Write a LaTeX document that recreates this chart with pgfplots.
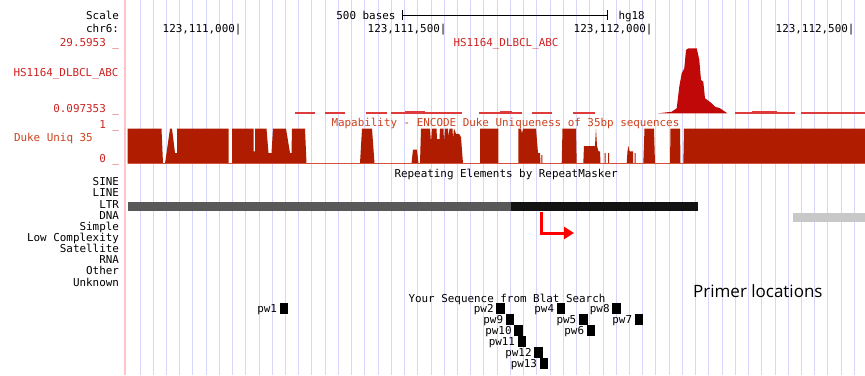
\documentclass[border=0pt]{standalone}
\usepackage{pgfplots}
\pgfplotsset{compat=1.18}
\usepackage{fontspec}
\setmainfont{DejaVu Sans}
\newfontfamily\ucsc{DejaVu Sans Mono}
\newfontfamily\prim{Open Sans}
\usetikzlibrary{arrows.meta}
\definecolor{gridc}{RGB}{214,214,250}
\definecolor{pinkline}{RGB}{255,195,195}
\definecolor{sigred}{RGB}{192,8,8}
\definecolor{dashred}{RGB}{222,60,60}
\definecolor{labred}{RGB}{205,35,35}
\definecolor{dukefill}{RGB}{175,28,0}
\definecolor{dukelab}{RGB}{205,65,30}
\definecolor{dukeline}{RGB}{215,80,60}
\definecolor{ltrgray}{RGB}{88,88,88}
\definecolor{dnagray}{RGB}{200,200,200}
\definecolor{blackbar}{RGB}{18,18,18}
\newcommand{\uf}{\ucsc\fontsize{10.9}{12}\selectfont}
\begin{document}
\begin{tikzpicture}
\begin{axis}[
  scale only axis, width=865pt, height=375pt,
  xmin=0, xmax=865, ymin=0, ymax=375, y dir=reverse,
  axis background/.style={fill=white},
  axis line style={draw=none},
  xtick={140,153.23,...,866}, xticklabels={}, xtick style={draw=none},
  xmajorgrids, grid style={gridc, line width=1pt},
  ytick=\empty,
  clip=false,
]
\coordinate (SW) at (axis cs:0,375);
\coordinate (NE) at (axis cs:865,0);
% left border line
\addplot[pinkline, line width=2pt] coordinates {(125,0)(125,375)};

% ---- signal track HS1164_DLBCL_ABC
\addplot[fill=sigred, draw=none] table[y expr={113.3-(\thisrow{v}-0.097353)/(29.5953-0.097353)*65}] {
x v
658.3 0.097353
671.7 0.82
676.7 2.37
679.3 12.17
681.7 18.25
684.3 20.52
686.0 28.83
688.3 29.5953
696.7 29.5953
699.3 24.29
701.0 15.21
703.3 14.44
705.0 6.90
708.3 5.82
711.7 4.64
715.0 3.09
720.0 2.37
725.0 0.82
727.3 0.097353
} -- cycle;
\addplot[dashred, line width=1.5pt, unbounded coords=jump] coordinates {
(295,113)(315,113)(320,nan)(325,113)(345,113)(350,nan)(366,113)(386.7,113)(388,nan)
(390.7,113)(461.7,113)(470,nan)(479.3,113)(521.7,113)(525,nan)(531.7,113)(551.7,113)(560,nan)
(573,113)(595,113)(600,nan)(735,113)(795,113)(797,nan)(800.7,113)(865,113)};
\addplot[dashred, line width=1.5pt, unbounded coords=jump] coordinates {
(405,111.6)(425,111.6)(430,nan)(500,111.6)(511.7,111.6)(520,nan)(752,111.6)(777,111.6)};

% ---- Duke uniqueness track
\addplot[fill=dukefill, draw=none] table[y expr={163.5-35*\thisrow{v}}] {
x v
127.5 0
127.5 1
161.5 1
163 0
165 0
170 1
172 1
175 0.3
177 0.3
177 1
228.5 1
228.5 0
232 0
232 1
253.5 1
253.5 0.35
255 0.35
255 1
266.5 1
268.5 0.3
271.5 0.3
273 1
286 1
290 0.3
291.5 0.3
292 1
305 1
306.5 0
360 0
362 1
372 1
374.5 0
411.5 0
413 0.4
417 0.4
418.5 0
420 0
421 1
430 1
431 0.6
432 1
436.5 1
437 0.7
439.5 0.7
440 1
443.5 1
444 0.6
445 1
448 1
448.5 0.75
449.5 1
452.5 1
453 0.7
454 1
456 0.85
459 0.85
461 0.75
463 0
480 0
480 1
498.3 1
498.3 0
518.3 0
518.3 1
521 1
522 0.85
523 1
536 1
538 0.3
540 0.3
540.5 0
541.3 0
541.3 0.25
542.3 0.25
542.3 0
561.7 0
562.5 1
576 1
576.7 0
583.3 0
584 0.5
595 0.5
596 1
597 0.5
598.5 0.35
600 0.35
600.5 0
604.5 0
604.5 0.3
605.5 0.3
605.5 0
608 0
608 0.3
609 0.3
609 0
626.7 0
627.5 0.35
628.5 0.5
629.5 0.35
633 0.35
633 0
634.5 0
634.5 0.3
635.5 0.3
635.5 0
643.3 0
644.5 1
654 1
655 0
670 0
670.5 1
680 1
680.5 0
683.3 0
684 1
865 1
865 0
} -- cycle;
\addplot[dukeline, line width=1pt] coordinates {(127.5,163.8)(865,163.8)};

% ---- RepeatMasker
\addplot[fill=ltrgray, draw=none] coordinates {(128,201.7)(511,201.7)(511,210.7)(128,210.7)} -- cycle;
\addplot[fill=blackbar, draw=none] coordinates {(511,201.7)(698,201.7)(698,210.7)(511,210.7)} -- cycle;
\addplot[fill=dnagray, draw=none] coordinates {(793,212.7)(865,212.7)(865,221.7)(793,221.7)} -- cycle;
\addplot[red, line width=3pt, line join=miter, -{Triangle[length=10pt,width=12pt]}] coordinates {(541.3,211.5)(541.3,233)(574,233)};

% ---- scale bar
\addplot[black, line width=0.8pt] coordinates {(402,15)(607,15)};
\addplot[black, line width=1pt] coordinates {(402,10)(402,20)};
\addplot[black, line width=1pt] coordinates {(607,10)(607,20)};

% ---- primers (Blat hits)
\addplot[only marks, mark=square*, mark size=5pt, mark options={xscale=0.75, fill=black, draw=none},
  point meta=explicit symbolic, nodes near coords,
  nodes near coords style={anchor=base east, font=\uf, text=black, xshift=-6.5pt, yshift=-4pt, inner sep=0pt}]
  table[meta=lab] {
x y lab
283.7 308.3 pw1
500.3 308.3 pw2
560.8 308.3 pw4
616.3 308.3 pw8
509.8 319.0 pw9
583.0 319.0 pw5
638.8 319.0 pw7
518.3 330.0 pw10
590.8 330.0 pw6
521.7 341.0 pw11
538.3 352.0 pw12
543.7 363.0 pw13
};

% ---- texts
\node[anchor=base east, font=\uf] at (axis cs:122.5,19) {Scale};
\node[anchor=base east, font=\uf] at (axis cs:122.5,32) {chr6:};
\node[anchor=base east, font=\uf, text=labred] at (axis cs:122.5,46.5) {29.5953 \_};
\node[anchor=base west, font=\uf, text=labred] at (axis cs:10,76.7) {HS1164\_DLBCL\_ABC};
\node[anchor=base east, font=\uf, text=labred] at (axis cs:122.5,112) {0.097353 \_};
\node[anchor=base east, font=\uf, text=labred] at (axis cs:122.5,128.5) {1 \_};
\node[anchor=base west, font=\uf, text=dukelab] at (axis cs:10.5,141.7) {Duke Uniq 35};
\node[anchor=base east, font=\uf, text=labred] at (axis cs:122.5,162.3) {0 \_};
\node[anchor=base east, font=\uf] at (axis cs:122.5,185.7) {SINE};
\node[anchor=base east, font=\uf] at (axis cs:122.5,196.7) {LINE};
\node[anchor=base east, font=\uf] at (axis cs:122.5,208.3) {LTR};
\node[anchor=base east, font=\uf] at (axis cs:122.5,219.7) {DNA};
\node[anchor=base east, font=\uf] at (axis cs:122.5,230.7) {Simple};
\node[anchor=base east, font=\uf] at (axis cs:122.5,241.7) {Low Complexity};
\node[anchor=base east, font=\uf] at (axis cs:122.5,252.7) {Satellite};
\node[anchor=base east, font=\uf] at (axis cs:122.5,263.3) {RNA};
\node[anchor=base east, font=\uf] at (axis cs:122.5,274.7) {Other};
\node[anchor=base east, font=\uf] at (axis cs:122.5,286.3) {Unknown};

\node[anchor=base east, font=\uf] at (axis cs:399,19) {500 bases};
\node[anchor=base west, font=\uf] at (axis cs:615,19) {hg18};
\node[anchor=base east, font=\uf] at (axis cs:245,32) {123,111,000|};
\node[anchor=base east, font=\uf] at (axis cs:450,32) {123,111,500|};
\node[anchor=base east, font=\uf] at (axis cs:656,32) {123,112,000|};
\node[anchor=base east, font=\uf] at (axis cs:858,32) {123,112,500|};
\node[anchor=base west, font=\uf, text=labred] at (axis cs:450,46.7) {HS1164\_DLBCL\_ABC};
\node[anchor=base west, font=\uf, text=dukelab] at (axis cs:328,126.5) {Mapability - ENCODE Duke Uniqueness of 35bp sequences};
\node[anchor=base west, font=\uf] at (axis cs:391,177.3) {Repeating Elements by RepeatMasker};
\node[anchor=base west, font=\uf] at (axis cs:405,302.3) {Your Sequence from Blat Search};
\node[anchor=west, font=\prim\fontsize{17}{19}\selectfont, inner sep=0pt] at (axis cs:693,291) {Primer locations};
\end{axis}
\pgfresetboundingbox
\useasboundingbox (SW) rectangle (NE);
\end{tikzpicture}
\end{document}
